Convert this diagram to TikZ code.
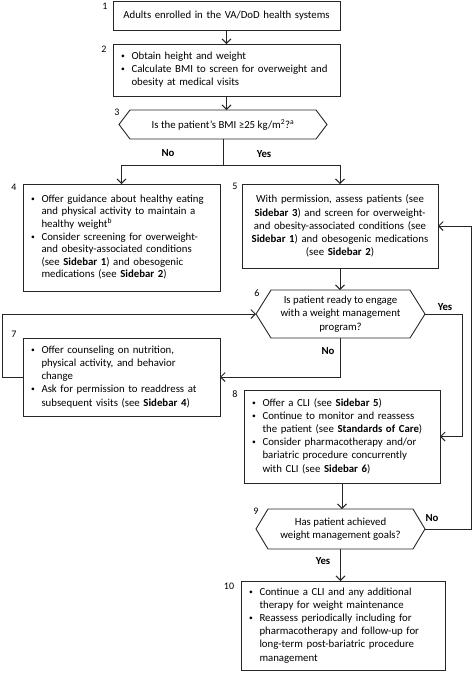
\documentclass[tikz,border=0pt]{standalone}
\usepackage{fontspec}
\setmainfont{Carlito}
\usepackage{graphicx}
\usetikzlibrary{arrows.meta,calc}
\newcommand{\bl}{\raisebox{0.2ex}{\scalebox{0.7}{\textbullet}}}
\newcommand{\bi}{\makebox[10.5pt][l]{\bl}}
\newcommand{\hexa}[2]{\draw[ln] ([xshift=#2]#1.north west) -- ([xshift=-#2]#1.north east) -- (#1.east) -- ([xshift=-#2]#1.south east) -- ([xshift=#2]#1.south west) -- (#1.west) -- cycle;}
\tikzset{
  ln/.style={line width=0.9pt, draw=black!85},
  box/.style={ln, draw, inner xsep=8pt, inner ysep=0pt, outer sep=0pt, align=left, font=\fontsize{10.8}{13.2}\selectfont},
  hexn/.style={inner sep=0pt, outer sep=0pt, align=center, font=\fontsize{10.8}{13.2}\selectfont},
  arr/.style={ln, -{Straight Barb[length=4.5pt,width=9pt]}},
  lab/.style={font=\fontsize{10.8}{13}\selectfont\bfseries, inner sep=0pt},
  num/.style={font=\fontsize{10}{12}\selectfont, inner sep=0pt}
}
\begin{document}
\begin{tikzpicture}[x=1pt,y=-1pt]
\useasboundingbox (0,0) rectangle (474,673);

% boxes
\node[box, align=center, text width=211pt, minimum height=29pt] (b1) at (226.5,15.5) {Adults enrolled in the VA/DoD health systems};
\node[box, text width=211pt, minimum height=52pt] (b2) at (226.5,70) {\begin{tabular}{@{}l@{}l@{}}
\bi & Obtain height and weight\\
\bi & Calculate BMI to screen for overweight and\\
 & obesity at medical visits
\end{tabular}};
\node[hexn, minimum width=208pt, minimum height=29pt] (h3) at (223,124.5) {Is the patient’s BMI ≥25 kg/m\textsuperscript{2}?\textsuperscript{a}};
\hexa{h3}{11pt}

\node[box, text width=181pt, minimum height=107pt, font=\fontsize{10.8}{12.4}\selectfont] (b4) at (121.5,237.5) {\begin{tabular}{@{}l@{}l@{}}
\bi & Offer guidance about healthy eating\\
 & and physical activity to maintain a\\
 & healthy weight\textsuperscript{b}\\
\bi & Consider screening for overweight-\\
 & and obesity-associated conditions\\
 & (see \textbf{Sidebar 1}) and obesogenic\\
 & medications (see \textbf{Sidebar 2})
\end{tabular}};

\node[box, align=center, inner xsep=4pt, text width=188pt, minimum height=84pt] (b5) at (340,226) {With permission, assess patients (see\\
\textbf{Sidebar 3}) and screen for overweight-\\
and obesity-associated conditions (see\\
\textbf{Sidebar 1}) and obesogenic medications\\
(see \textbf{Sidebar 2})};

\node[hexn, minimum width=169pt, minimum height=48pt] (h6) at (340.5,314) {Is patient ready to engage\\ with a weight management\\ program?};
\hexa{h6}{15pt}

\node[box, text width=181pt, minimum height=78pt] (b7) at (121.5,377) {\begin{tabular}{@{}l@{}l@{}}
\bi & Offer counseling on nutrition,\\
 & physical activity, and behavior\\
 & change\\
\bi & Ask for permission to readdress at\\
 & subsequent visits (see \textbf{Sidebar 4})
\end{tabular}};

\node[box, text width=180pt, minimum height=93pt] (b8) at (342,436.5) {\begin{tabular}{@{}l@{}l@{}}
\bi & Offer a CLI (see \textbf{Sidebar 5})\\
\bi & Continue to monitor and reassess\\
 & the patient (see \textbf{Standards of Care})\\
\bi & Consider pharmacotherapy and/or\\
 & bariatric procedure concurrently\\
 & with CLI (see \textbf{Sidebar 6})
\end{tabular}};

\node[hexn, minimum width=169pt, minimum height=40pt] (h9) at (340.5,529) {Has patient achieved\\ weight management goals?};
\hexa{h9}{12pt}

\node[box, text width=188pt, minimum height=89pt] (b10) at (343,625.5) {\begin{tabular}{@{}l@{}l@{}}
\bi & Continue a CLI and any additional\\
 & therapy for weight maintenance\\
\bi & Reassess periodically including for\\
 & pharmacotherapy and follow-up for\\
 & long-term post-bariatric procedure\\
 & management
\end{tabular}};

% numbers
\node[num] (n1) at (105,6) {1};
\node[num] (n2) at (104,49) {2};
\node[num] (n3) at (117,112) {3};
\node[num] (n4) at (14,187) {4};
\node[num] (n5) at (235,186) {5};
\node[num] (n6) at (257,293) {6};
\node[num] (n7) at (14,334) {7};
\node[num] (n8) at (235,394) {8};
\node[num] (n9) at (256,511) {9};
\node[num] (n10) at (229,586) {10};

% labels
\node[lab] (lno1) at (168,153) {No};
\node[lab] (lyes1) at (264,154) {Yes};
\node[lab] (lyes2) at (445,307) {Yes};
\node[lab] (lno2) at (328,351) {No};
\node[lab] (lno3) at (432,518) {No};
\node[lab] (lyes3) at (323,561) {Yes};

% connectors
\draw[arr] (b1.south) -- (b2.north);
\draw[arr] (b2.south) -- (b2.south |- h3.north);
\coordinate (j) at ($(h3.south)+(0,26)$);
\draw[ln] (h3.south) -- (j);
\draw[arr] (j) -| (b4.north);
\draw[arr] (j) -| (b5.north);
\draw[arr] (b5.south) -- (b5.south |- h6.north);
\draw[arr] (b7.west) -- ++(-21,0) |- (h6.west);
\draw[arr] (h6.south) |- (b7.east);
\draw[arr] (h6.east) -- ++(37,0) |- (b8.east);
\draw[arr] (b8.south) -- (b8.south |- h9.north);
\draw[arr] (h9.east) -- ++(46,0) |- (b5.east);
\draw[arr] (h9.south) -- (h9.south |- b10.north);
\end{tikzpicture}
\end{document}
